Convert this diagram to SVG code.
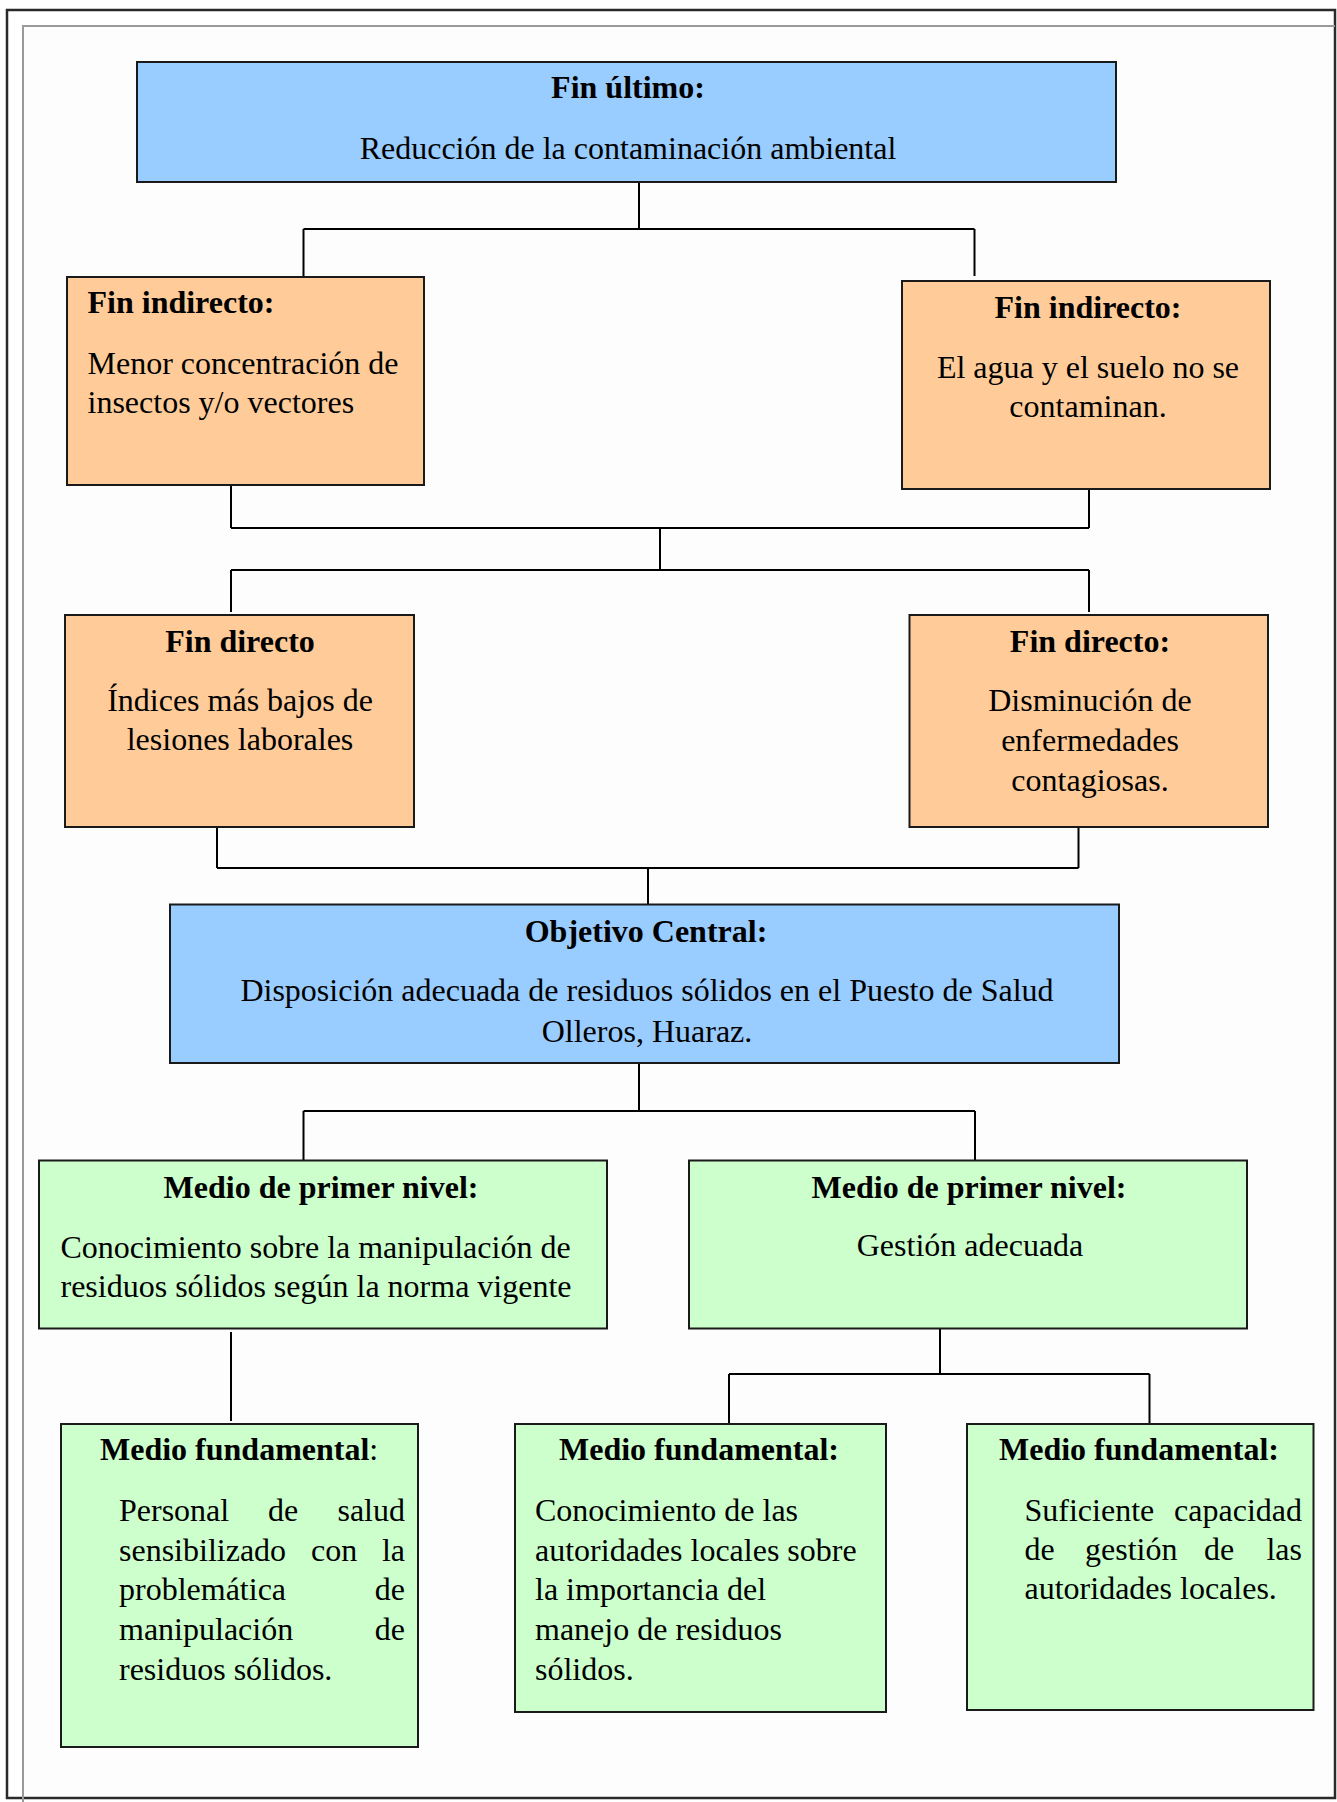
<svg xmlns="http://www.w3.org/2000/svg" width="1337" height="1802" viewBox="0 0 1337 1802">
<style>
.box{stroke:#1a1a1a;stroke-width:2}
.blue{fill:#99CCFF}
.orange{fill:#FFCC99}
.green{fill:#CCFFCC}
text{font-family:"Liberation Serif","Times New Roman",serif;font-size:32px;fill:#000}
.t{font-weight:bold}
.c{text-anchor:middle}
.e{text-anchor:end}
.conn{fill:none;stroke:#000;stroke-width:2}
</style>
<rect x="0" y="0" width="1337" height="1802" fill="#ffffff"/>
<g id="frame">
<rect x="23" y="26" width="1312" height="1772" fill="#fdfdfd"/>
<rect x="7" y="10" width="1328" height="1788" fill="none" stroke="#2a2a2a" stroke-width="2.5"/>
<path d="M23 1802 V26 H1335" fill="none" stroke="#9a9a9a" stroke-width="2"/>
</g>
<g id="connectors">
<path class="conn" d="M639 182 V229 M303.5 229 H974.5 M303.5 229 V277 M974.5 229 V276"/>
<path class="conn" d="M231 485 V528 M1089 489 V528 M231 528 H1089 M660 528 V570 M231 570 H1089 M231 570 V612 M1089 570 V612"/>
<path class="conn" d="M217 828 V868 M1078.5 828 V868 M217 868 H1078.5 M648 868 V904"/>
<path class="conn" d="M639 1063 V1111 M303.5 1111 H975 M303.5 1111 V1160 M975 1111 V1160"/>
<path class="conn" d="M231 1332 V1421" stroke-width="1.5"/>
<path class="conn" d="M940 1329 V1374 M729 1374 H1149.5 M729 1374 V1423 M1149.5 1374 V1423"/>
</g>
<g id="fin-ultimo">
<rect class="box blue" x="137" y="62" width="979" height="120"/>
<text class="t c" x="628" y="98">Fin último:</text>
<text class="c" x="628" y="159">Reducción de la contaminación ambiental</text>
</g>
<g id="fin-indirecto-1">
<rect class="box orange" x="67" y="277" width="357" height="208"/>
<text class="t" x="87.5" y="313">Fin indirecto:</text>
<text x="87.5" y="374">Menor concentración de</text>
<text x="87.5" y="413">insectos y/o vectores</text>
</g>
<g id="fin-indirecto-2">
<rect class="box orange" x="902" y="281" width="368" height="208"/>
<text class="t c" x="1088" y="318">Fin indirecto:</text>
<text class="c" x="1088" y="378">El agua y el suelo no se</text>
<text class="c" x="1088" y="417">contaminan.</text>
</g>
<g id="fin-directo-1">
<rect class="box orange" x="65" y="615" width="349" height="212"/>
<text class="t c" x="240" y="652">Fin directo</text>
<text class="c" x="240" y="711">Índices más bajos de</text>
<text class="c" x="240" y="750">lesiones laborales</text>
</g>
<g id="fin-directo-2">
<rect class="box orange" x="909.5" y="615" width="358.5" height="212"/>
<text class="t c" x="1090" y="652">Fin directo:</text>
<text class="c" x="1090" y="711">Disminución de</text>
<text class="c" x="1090" y="751">enfermedades</text>
<text class="c" x="1090" y="791">contagiosas.</text>
</g>
<g id="objetivo-central">
<rect class="box blue" x="170" y="904.5" width="949" height="158.5"/>
<text class="t c" x="646" y="942">Objetivo Central:</text>
<text class="c" x="647" y="1001">Disposición adecuada de residuos sólidos en el Puesto de Salud</text>
<text class="c" x="647" y="1041.5">Olleros, Huaraz.</text>
</g>
<g id="medio-primer-1">
<rect class="box green" x="39" y="1160.5" width="568" height="168"/>
<text class="t c" x="321" y="1198">Medio de primer nivel:</text>
<text x="60.5" y="1258">Conocimiento sobre la manipulación de</text>
<text x="60.5" y="1297">residuos sólidos según la norma vigente</text>
</g>
<g id="medio-primer-2">
<rect class="box green" x="689" y="1160.5" width="558" height="168"/>
<text class="t c" x="969" y="1198">Medio de primer nivel:</text>
<text class="c" x="970" y="1256">Gestión adecuada</text>
</g>
<g id="medio-fundamental-1">
<rect class="box green" x="61" y="1424" width="357" height="323"/>
<text x="100" y="1460"><tspan class="t">Medio fundamental</tspan>:</text>
<text x="119" y="1521">Personal</text><text x="268" y="1521">de</text><text class="e" x="405" y="1521">salud</text>
<text x="119" y="1561">sensibilizado</text><text x="311" y="1561">con</text><text class="e" x="405" y="1561">la</text>
<text x="119" y="1600">problemática</text><text class="e" x="405" y="1600">de</text>
<text x="119" y="1640">manipulación</text><text class="e" x="405" y="1640">de</text>
<text x="119" y="1679.5">residuos sólidos.</text>
</g>
<g id="medio-fundamental-2">
<rect class="box green" x="515" y="1424" width="371" height="288"/>
<text class="t c" x="699" y="1460">Medio fundamental:</text>
<text x="535" y="1521">Conocimiento de las</text>
<text x="535" y="1561">autoridades locales sobre</text>
<text x="535" y="1600">la importancia del</text>
<text x="535" y="1640">manejo de residuos</text>
<text x="535" y="1679.5">sólidos.</text>
</g>
<g id="medio-fundamental-3">
<rect class="box green" x="967" y="1424" width="346.5" height="286"/>
<text class="t c" x="1139" y="1460">Medio fundamental:</text>
<text x="1024.5" y="1521">Suficiente</text><text class="e" x="1302" y="1521">capacidad</text>
<text x="1024.5" y="1560">de</text><text x="1085" y="1560">gestión</text><text x="1204" y="1560">de</text><text class="e" x="1302" y="1560">las</text>
<text x="1024.5" y="1599">autoridades locales.</text>
</g>
</svg>
